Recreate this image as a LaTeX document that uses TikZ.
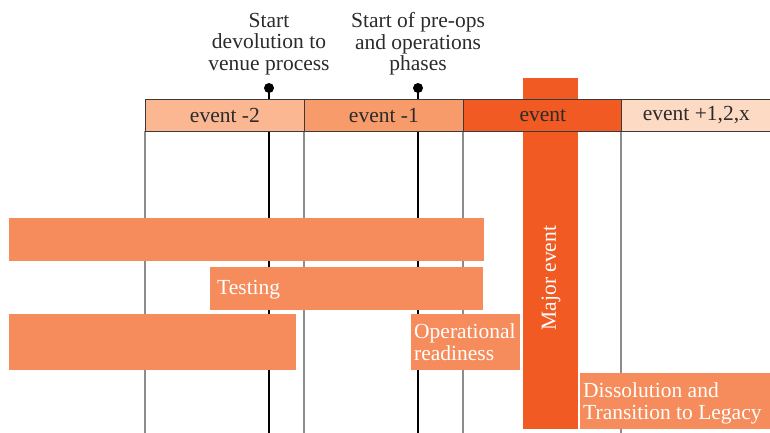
\documentclass[tikz,border=0pt]{standalone}
\usepackage{fontspec}
\setmainfont{Liberation Serif}
\definecolor{hdrA}{HTML}{FAB792}
\definecolor{hdrB}{HTML}{F79B6B}
\definecolor{hdrC}{HTML}{F15A22}
\definecolor{hdrD}{HTML}{FDDAC4}
\definecolor{barfill}{HTML}{F68C5B}
\definecolor{gridgray}{HTML}{8C8C8C}
\definecolor{edgedark}{HTML}{3A3A3A}
\definecolor{txtdark}{HTML}{2B2B2B}
\begin{document}
\begin{tikzpicture}[x=1pt,y=-1pt,
  cell/.style={draw=edgedark,line width=0.8pt,minimum width=159pt,minimum height=32pt,
    inner sep=0pt,anchor=north west,text=txtdark,font=\fontsize{21.5}{22}\selectfont},
  bar/.style={fill=barfill,draw=none,inner sep=0pt,anchor=north west},
  bartext/.style={text=white,font=\fontsize{21.5}{22}\selectfont,align=left,inner sep=0pt,anchor=west},
  toplabel/.style={text=txtdark,font=\fontsize{21.5}{21.5}\selectfont,align=center,inner sep=0pt},
  gridline/.style={draw=gridgray,line width=1.3pt},
  milestone/.style={draw=black,line width=2.6pt},
  pin/.style={circle,fill=black,inner sep=0pt,minimum size=10pt}
]
\useasboundingbox (0,0) rectangle (770,433);

% column guides below the header
\foreach \gx/\gn in {145/ga,304/gb,463/gc,621/gd}{
  \coordinate (\gn top) at (\gx,131);
  \coordinate (\gn bot) at (\gx,433);
  \draw[gridline] (\gn top) -- (\gn bot);
}

% milestone pins and stems
\node[pin] (pinA) at (269,88) {};
\node[pin] (pinB) at (418,88) {};
\coordinate (pinAbot) at (269,433);
\coordinate (pinBbot) at (418,433);
\draw[milestone] (pinA.center) -- (pinAbot);
\draw[milestone] (pinB.center) -- (pinBbot);

% major event column
\node[fill=hdrC,inner sep=0pt,minimum width=55pt,minimum height=351pt,anchor=north west] (major) at (523,78) {};

% header row
\node[cell,fill=hdrA] (h1) at (145,99) {event -2};
\node[cell,fill=hdrB] (h2) at (304,99) {event -1};
\node[cell,fill=hdrC] (h3) at (463,99) {event};
\node[cell,fill=hdrD,minimum width=150pt] (h4) at (621,99) {event +1,2,x};

% milestone labels
\node[toplabel] (labA) at (269,44) {Start\\devolution to\\venue process};
\node[toplabel] (labB) at (418,44) {Start of pre-ops\\and operations\\phases};

% activity bars
\node[bar,minimum width=475pt,minimum height=43pt] (bar1) at (9,218) {};
\node[bar,minimum width=273pt,minimum height=43pt] (bar2) at (210,267) {};
\node[bartext] (bar2t) at ([xshift=7pt,yshift=-1pt]bar2.west) {Testing};
\node[bar,minimum width=287pt,minimum height=56pt] (bar3) at (9,314) {};
\node[bar,minimum width=109pt,minimum height=56pt] (bar4) at (411,314) {};
\node[bartext] (bar4t) at ([xshift=3pt]bar4.west) {Operational\\readiness};
\node[bar,minimum width=190pt,minimum height=56pt] (bar5) at (580,373) {};
\node[bartext] (bar5t) at ([xshift=3pt,yshift=-2pt]bar5.west) {Dissolution and\\Transition to Legacy};

% label of the major event column
\node[text=white,font=\fontsize{21.5}{22}\selectfont,rotate=90,inner sep=0pt] (majort) at (551,278) {Major event};
\end{tikzpicture}
\end{document}
